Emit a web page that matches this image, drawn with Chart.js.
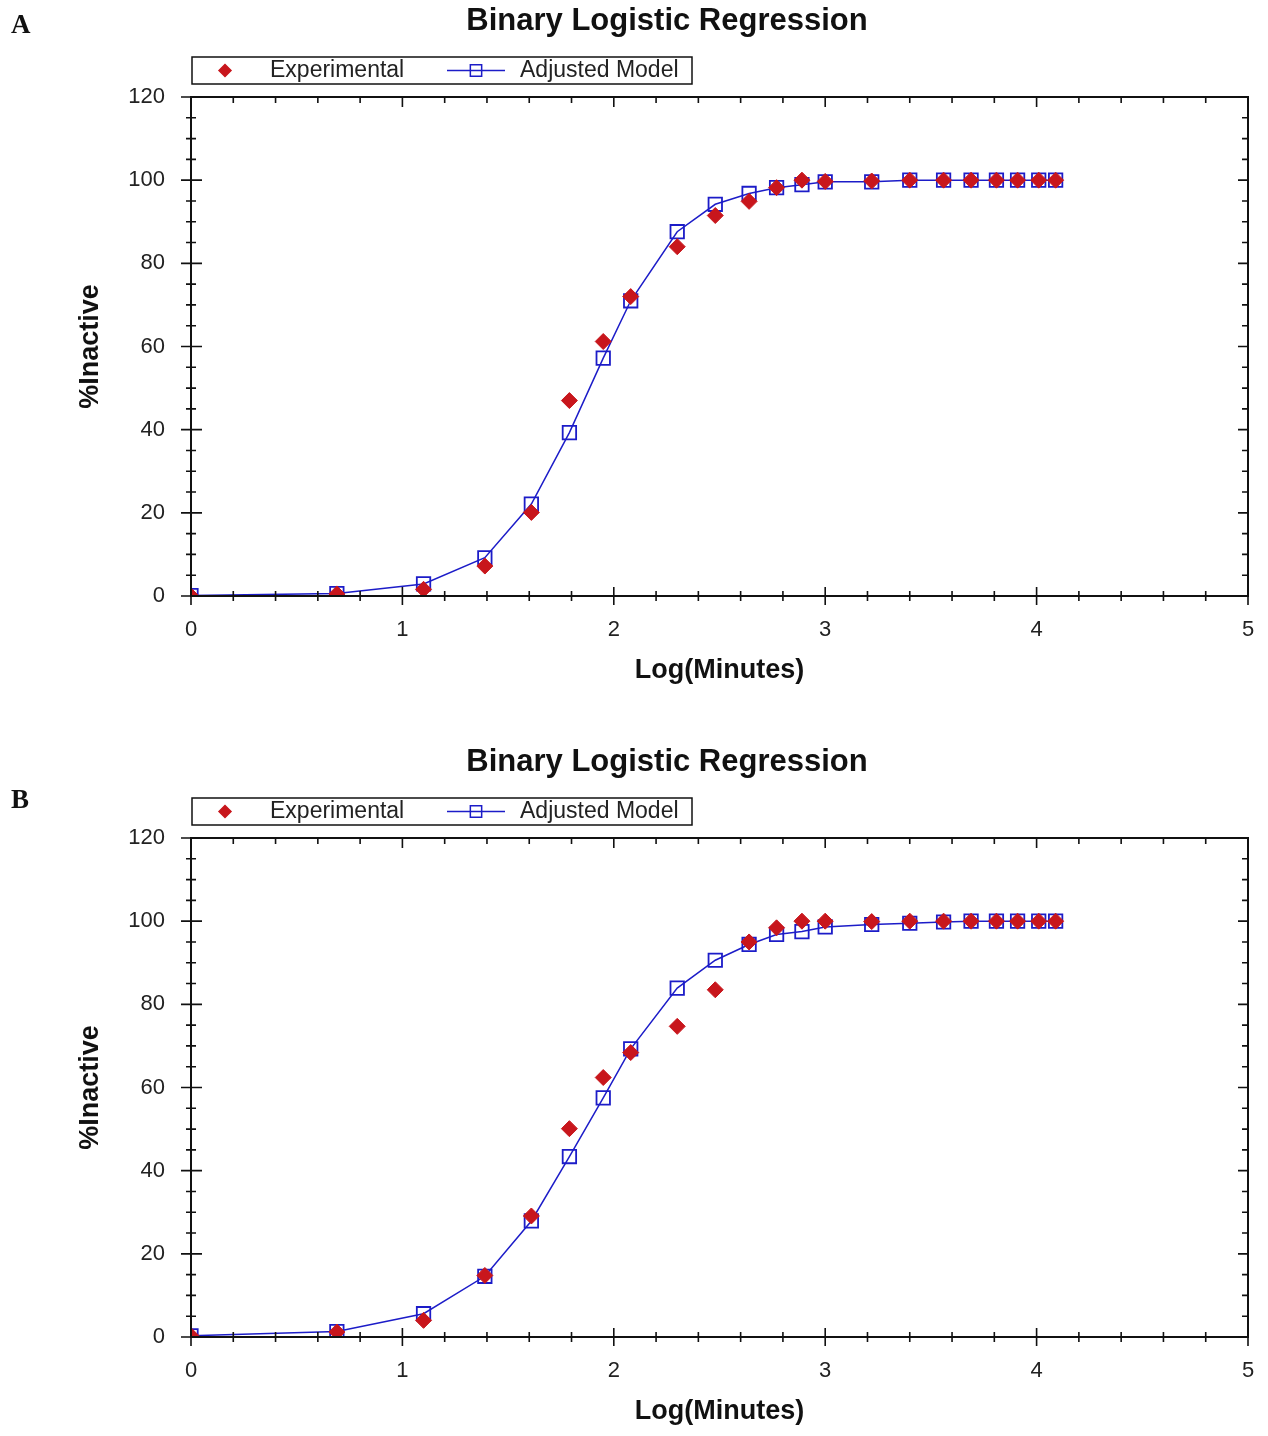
<!DOCTYPE html>
<html>
<head>
<meta charset="utf-8">
<script src="https://cdn.jsdelivr.net/npm/chart.js@4.4.1/dist/chart.umd.min.js"></script>
<style>
  body { margin: 0; background: #fff; width: 1268px; height: 1436px; position: relative; overflow: hidden; }
  .panel { position: absolute; left: 0; width: 1268px; height: 695px; }
  .letter { position: absolute; left: 11px; font: bold 27px "Liberation Serif", "Times New Roman", serif; color: #111; z-index: 2; }
</style>
</head>
<body>
<div class="panel" style="top:0"><canvas id="chartA"></canvas></div>
<div class="panel" style="top:741px"><canvas id="chartB"></canvas></div>
<div class="letter" style="top:9px">A</div>
<div class="letter" style="top:784px">B</div>

<script>
// log(minutes) for each sampling time, same for both panels
const logMinutes = [0, 0.69, 1.10, 1.39, 1.61, 1.79, 1.95, 2.08, 2.30, 2.48, 2.64, 2.77, 2.89, 3.00, 3.22, 3.40, 3.56, 3.69, 3.81, 3.91, 4.01, 4.09];

// Panel A
const experimentalA = [0, 0.5, 1.6, 7.2, 20.1, 47, 61.2, 72, 84, 91.5, 94.9, 98.2, 100, 99.7, 99.8, 100, 100, 100, 100, 100, 100, 100];
const modelA = [0.1, 0.6, 2.9, 9.2, 22.1, 39.3, 57.2, 71, 87.6, 94.2, 96.8, 98.2, 98.9, 99.6, 99.6, 100, 100, 100, 100, 100, 100, 100];

// Panel B
const experimentalB = [0.3, 1.2, 4.0, 14.8, 29.1, 50.1, 62.4, 68.4, 74.7, 83.5, 95, 98.4, 100, 100, 99.9, 100, 100, 100, 100, 100, 100, 100];
const modelB = [0.3, 1.3, 5.6, 14.6, 27.9, 43.4, 57.5, 69.3, 83.9, 90.6, 94.4, 96.8, 97.5, 98.6, 99.2, 99.5, 99.8, 100, 100, 100, 100, 100];

const xTicks = [0, 1, 2, 3, 4, 5];
const yTicks = [0, 20, 40, 60, 80, 100, 120];
const xMinorStep = 0.2;
const yMinorStep = 5;

const chartTitle = 'Binary Logistic Regression';
const xTitle = 'Log(Minutes)';
const yTitle = '%Inactive';
const seriesNames = ['Experimental', 'Adjusted Model'];

const RED = 'rgb(200, 22, 28)';
const BLUE = 'rgb(28, 28, 200)';
const FONT = '"Liberation Sans", Arial, sans-serif';

Chart.defaults.font.family = FONT;
Chart.defaults.color = '#222';

// frame, crossing ticks, title and boxed legend
const framePlugin = {
  id: 'framePlugin',
  afterDraw(chart) {
    const ctx = chart.ctx;
    const { left, right, top, bottom } = chart.chartArea;
    const xs = chart.scales.x;
    const ys = chart.scales.y;
    ctx.save();
    ctx.strokeStyle = '#111';
    ctx.lineWidth = 2;
    ctx.strokeRect(left, top, right - left, bottom - top);

    ctx.lineWidth = 1.6;
    ctx.beginPath();
    const nx = Math.round((xs.max - xs.min) / xMinorStep);
    for (let i = 0; i <= nx; i++) {
      const px = xs.getPixelForValue(xs.min + i * xMinorStep);
      const major = i % 5 === 0;
      const len = major ? 9 : 5;
      ctx.moveTo(px, bottom - len); ctx.lineTo(px, bottom + len);
      ctx.moveTo(px, top); ctx.lineTo(px, top + (major ? 10 : 6));
    }
    const ny = Math.round((ys.max - ys.min) / yMinorStep);
    for (let i = 0; i <= ny; i++) {
      const py = ys.getPixelForValue(ys.min + i * yMinorStep);
      const major = i % 4 === 0;
      ctx.moveTo(left - (major ? 10 : 5), py); ctx.lineTo(left + (major ? 11 : 5), py);
      ctx.moveTo(right, py); ctx.lineTo(right - (major ? 10 : 6), py);
    }
    ctx.stroke();

    // title
    ctx.fillStyle = '#111';
    ctx.font = 'bold 31px ' + FONT;
    ctx.textAlign = 'center';
    ctx.textBaseline = 'middle';
    ctx.fillText(chartTitle, 667, 21);

    // legend
    const lx = left + 1, ly = 57, lw = 500, lh = 27, cy = ly + lh / 2;
    ctx.lineWidth = 1.5;
    ctx.strokeRect(lx, ly, lw, lh);
    const ds = chart.data.datasets;
    ctx.fillStyle = ds[0].backgroundColor;
    ctx.strokeStyle = ds[0].borderColor;
    Chart.helpers.drawPoint(ctx, { pointStyle: 'rectRot', radius: 6, rotation: 0, borderWidth: 1 }, lx + 33, cy);
    ctx.strokeStyle = ds[1].borderColor;
    ctx.lineWidth = 1.5;
    ctx.beginPath();
    ctx.moveTo(lx + 255, cy); ctx.lineTo(lx + 313, cy);
    ctx.stroke();
    ctx.fillStyle = 'rgba(0,0,0,0)';
    Chart.helpers.drawPoint(ctx, { pointStyle: 'rect', radius: 8, rotation: 0, borderWidth: 1.5 }, lx + 284, cy);
    ctx.fillStyle = '#222';
    ctx.font = '23px ' + FONT;
    ctx.textAlign = 'left';
    ctx.fillText(ds[0].label, lx + 78, cy);
    ctx.fillText(ds[1].label, lx + 328, cy);
    ctx.restore();
  }
};

function makeChart(id, experimental, model) {
  const ctx = document.getElementById(id).getContext('2d');
  return new Chart(ctx, {
    type: 'scatter',
    data: {
      datasets: [
        {
          label: seriesNames[0],
          data: logMinutes.map((x, i) => ({ x: x, y: experimental[i] })),
          showLine: false,
          pointStyle: 'rectRot',
          pointRadius: 8,
          pointHoverRadius: 8,
          backgroundColor: RED,
          borderColor: RED,
          pointBorderWidth: 1,
        },
        {
          label: seriesNames[1],
          data: logMinutes.map((x, i) => ({ x: x, y: model[i] })),
          showLine: true,
          tension: 0,
          borderColor: BLUE,
          borderWidth: 1.5,
          backgroundColor: BLUE,
          pointStyle: 'rect',
          pointRadius: 9.5,
          pointHoverRadius: 9.5,
          pointBackgroundColor: 'rgba(0,0,0,0)',
          pointBorderColor: BLUE,
          pointBorderWidth: 1.8,
        },
      ],
    },
    options: {
      responsive: true,
      maintainAspectRatio: false,
      animation: false,
      layout: { padding: { top: 97, left: 40, right: 20, bottom: 0 } },
      plugins: {
        legend: { display: false },
        title: { display: false },
        tooltip: { enabled: false },
      },
      scales: {
        x: {
          type: 'linear',
          min: 0,
          max: 5,
          afterFit: (s) => { s.height = 99; s.paddingLeft = 0; s.paddingRight = 0; },
          afterBuildTicks: (s) => { s.ticks = xTicks.map((v) => ({ value: v })); },
          grid: { display: false, drawTicks: false },
          border: { display: false },
          ticks: { padding: 21, font: { size: 22 }, color: '#222' },
          title: { display: true, text: xTitle, font: { size: 27, weight: 'bold' }, color: '#111', padding: { top: 0, bottom: 8 } },
        },
        y: {
          type: 'linear',
          min: 0,
          max: 120,
          afterFit: (s) => { s.width = 151; s.paddingTop = 0; s.paddingBottom = 0; },
          afterBuildTicks: (s) => { s.ticks = yTicks.map((v) => ({ value: v })); },
          grid: { display: false, drawTicks: false },
          border: { display: false },
          ticks: { padding: 26, font: { size: 22 }, color: '#222' },
          title: { display: true, text: yTitle, font: { size: 27, weight: 'bold' }, color: '#111', padding: { top: 34, bottom: 0 } },
        },
      },
    },
    plugins: [framePlugin],
  });
}

makeChart('chartA', experimentalA, modelA);
makeChart('chartB', experimentalB, modelB);
</script>
</body>
</html>
